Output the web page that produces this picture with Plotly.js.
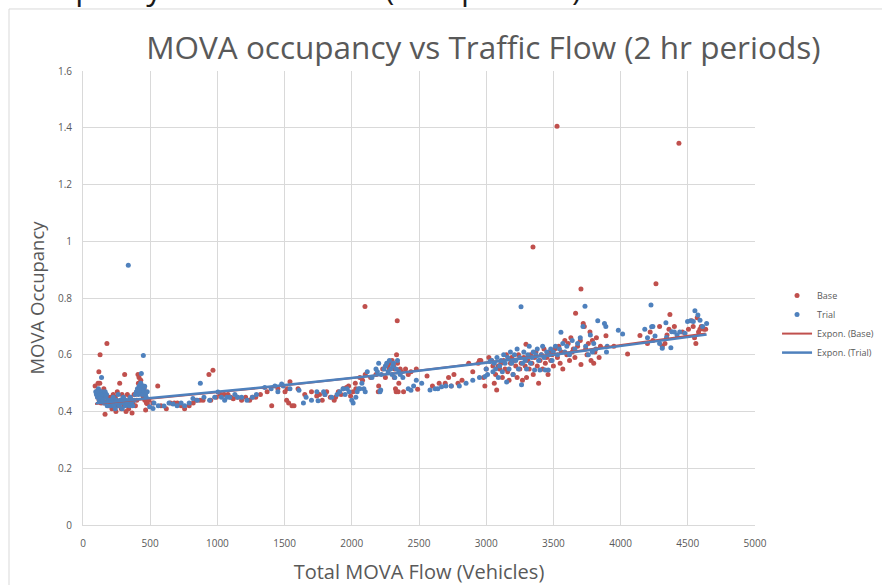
<!DOCTYPE html>
<html>
<head>
<meta charset="utf-8">
<script src="https://cdn.plot.ly/plotly-3.0.1.min.js"></script>
<style>html,body{margin:0;padding:0;background:#fff;}#chart{width:882px;height:585px;}</style>
</head>
<body>
<div id="chart"></div>
<script>
// ---- Data ----
const baseFlow = [
 90,100,105,110,112,118,120,125,127,130,135,140,145,150,155,160,164,170,178,185,190,195,
 205,210,215,220,225,230,235,240,245,250,255,260,265,273,280,285,290,295,300,305,310,315,320,330,335,340,350,360,365,370,380,390,400,409,412,417,420,
 425,430,435,440,445,450,455,460,466,472,479,490,
 520,556,580,620,650,680,702,730,756,790,820,843,870,893,937,950,967,992,1020,1050,1079,1100,1118,1150,1180,1210,1240,1260,1285,1320,1370,1404,
 1450,1503,1515,1520,1530,1540,1555,1570,1600,1650,1700,1739,1760,1780,1800,1813,1840,1869,1879,1900,1920,1937,1960,1976,1991,2010,2026,2030,2060,2080,2098,2100,2140,
 2180,2197,2200,2230,2250,2270,2280,2290,2300,2310,2316,2320,2325,2330,2333,2338,2340,2345,2350,2360,2370,2385,2400,2420,2440,2480,2490,
 2560,2600,2650,2695,2720,2740,2760,2790,2820,2870,2900,2940,2950,2960,2980,2990,3000,
 3020,3040,3050,3060,3070,3078,3090,3100,3110,3120,3130,3140,3150,3160,3170,3180,3190,3200,3210,3220,3230,3240,3250,3260,3270,3280,3290,3296,3300,3310,3320,3330,3340,3348,3350,3360,3370,3380,3390,3400,3410,3420,3430,3440,3450,3460,3470,3480,3490,3500,
 3510,3527,3530,3540,3550,3560,3570,3585,3600,3610,3620,3630,3640,3648,3660,3665,3680,3700,3705,3705,3722,3730,3740,3750,3760,3772,3780,3790,3800,3809,3820,3840,3850,
 3891,3950,4052,4144,4200,4220,4240,4263,4290,4310,4330,4345,4360,4367,4400,4434,4460,4505,4530,4540,4550,4560,4570,4580,4590,4600,4620,4633
];
const baseOcc = [
 0.49,0.47,0.46,0.45,0.50,0.54,0.44,0.50,0.60,0.47,0.43,0.46,0.45,0.44,0.48,0.43,0.39,0.46,0.64,0.44,0.42,0.45,
 0.43,0.45,0.41,0.44,0.46,0.42,0.43,0.45,0.40,0.44,0.47,0.42,0.43,0.50,0.44,0.41,0.46,0.43,0.45,0.42,0.53,0.44,0.40,0.46,0.43,0.41,0.45,0.44,0.395,0.43,0.46,0.42,0.44,0.53,0.50,0.52,0.48,
 0.47,0.51,0.49,0.46,0.47,0.45,0.48,0.44,0.405,0.43,0.427,0.44,
 0.43,0.49,0.42,0.41,0.43,0.43,0.43,0.42,0.41,0.42,0.43,0.44,0.44,0.44,0.53,0.44,0.545,0.45,0.46,0.46,0.46,0.45,0.445,0.45,0.44,0.45,0.44,0.45,0.45,0.46,0.47,0.42,
 0.48,0.47,0.44,0.48,0.43,0.505,0.42,0.42,0.48,0.46,0.47,0.455,0.46,0.44,0.46,0.47,0.45,0.44,0.45,0.47,0.46,0.48,0.485,0.49,0.455,0.47,0.50,0.48,0.52,0.51,0.77,0.53,0.52,
 0.53,0.47,0.49,0.55,0.52,0.56,0.55,0.57,0.58,0.56,0.52,0.55,0.48,0.47,0.60,0.72,0.57,0.47,0.50,0.55,0.54,0.47,0.55,0.53,0.54,0.55,0.478,
 0.525,0.49,0.50,0.50,0.52,0.49,0.53,0.50,0.51,0.57,0.54,0.57,0.58,0.58,0.52,0.49,0.55,
 0.59,0.58,0.56,0.50,0.53,0.476,0.56,0.55,0.57,0.52,0.58,0.55,0.60,0.54,0.51,0.57,0.59,0.53,0.58,0.56,0.52,0.60,0.55,0.57,0.51,0.59,0.56,0.637,0.52,0.58,0.55,0.60,0.57,0.98,0.53,0.59,0.61,0.56,0.50,0.58,0.60,0.55,0.62,0.57,0.59,0.53,0.61,0.58,0.60,0.56,
 0.62,1.405,0.59,0.63,0.57,0.61,0.55,0.65,0.60,0.64,0.58,0.66,0.61,0.62,0.59,0.746,0.63,0.65,0.832,0.566,0.71,0.70,0.62,0.60,0.64,0.68,0.58,0.65,0.57,0.61,0.66,0.59,0.63,
 0.667,0.63,0.603,0.668,0.64,0.68,0.65,0.85,0.70,0.63,0.64,0.67,0.69,0.742,0.70,1.345,0.68,0.69,0.72,0.70,0.66,0.64,0.73,0.68,0.69,0.70,0.69,0.69
];
const trialFlow = [
 95,100,104,108,112,115,118,122,126,130,134,138,142,146,150,155,160,165,170,175,180,190,
 205,210,218,225,232,240,248,255,262,270,278,285,292,300,308,315,322,330,337,345,352,360,370,380,390,397,405,412,
 418,422,426,430,434,438,442,446,449,452,456,459,465,470,478,496,
 521,528,560,603,640,670,700,730,756,790,818,850,873,900,942,980,1004,1030,1054,1070,1091,1130,1150,1180,1220,1260,1290,1352,1400,
 1428,1450,1478,1490,1540,1607,1640,1660,1700,1740,1749,1790,1800,1850,1890,1910,1935,1950,1965,1980,2000,2010,2030,2040,2050,2060,2075,2090,2100,
 2115,2150,2180,2190,2200,2210,2215,2220,2240,2250,2260,2270,2280,2290,2300,2305,2310,2320,2330,2340,2350,2360,2380,2420,2440,2460,2480,
 2520,2582,2620,2640,2668,2700,2740,2800,2850,2900,2950,2991,3000,
 3010,3028,3040,3050,3060,3070,3080,3090,3100,3110,3120,3130,3140,3152,3160,3170,3180,3190,3200,3210,3220,3230,3240,3250,3259,3263,3270,3280,3290,3300,3310,3320,3330,3340,3350,3360,3370,3380,3390,3400,3410,3420,3430,3440,3450,3462,3470,3480,3490,
 3500,3515,3530,3545,3556,3570,3585,3600,3620,3640,3660,3680,3700,3720,3735,3740,3760,3775,3790,3800,3815,3830,
 3880,3890,3895,3900,3983,4015,4180,4200,4226,4231,4240,4256,4290,4310,4337,4342,4374,4380,4400,4420,4440,4478,4498,4520,4541,4553,4575,4591,4610,4640
];
const trialOcc = [
 0.47,0.46,0.47,0.45,0.47,0.48,0.46,0.44,0.47,0.46,0.45,0.52,0.47,0.46,0.44,0.43,0.46,0.47,0.45,0.46,0.42,0.44,
 0.42,0.44,0.43,0.45,0.42,0.41,0.44,0.43,0.46,0.42,0.44,0.43,0.41,0.45,0.43,0.42,0.44,0.43,0.915,0.42,0.45,0.43,0.42,0.44,0.46,0.47,0.48,0.46,
 0.49,0.47,0.48,0.50,0.534,0.47,0.46,0.49,0.597,0.48,0.47,0.489,0.46,0.45,0.47,0.417,
 0.411,0.43,0.42,0.419,0.43,0.426,0.42,0.43,0.42,0.43,0.446,0.44,0.50,0.45,0.44,0.45,0.469,0.45,0.44,0.45,0.45,0.46,0.45,0.45,0.44,0.45,0.46,0.485,0.48,
 0.49,0.47,0.497,0.49,0.48,0.475,0.43,0.45,0.44,0.47,0.438,0.47,0.46,0.45,0.46,0.47,0.48,0.46,0.48,0.47,0.44,0.43,0.45,0.47,0.48,0.48,0.50,0.48,0.47,
 0.54,0.52,0.55,0.54,0.57,0.47,0.476,0.53,0.55,0.56,0.57,0.54,0.58,0.55,0.53,0.56,0.57,0.52,0.55,0.58,0.54,0.53,0.52,0.48,0.475,0.49,0.51,
 0.50,0.476,0.48,0.48,0.487,0.49,0.49,0.49,0.50,0.51,0.52,0.523,0.55,
 0.53,0.576,0.58,0.54,0.57,0.55,0.59,0.52,0.56,0.58,0.54,0.60,0.57,0.504,0.59,0.55,0.61,0.57,0.53,0.60,0.58,0.62,0.55,0.59,0.769,0.494,0.57,0.61,0.58,0.55,0.60,0.63,0.57,0.59,0.61,0.546,0.60,0.62,0.58,0.546,0.60,0.63,0.59,0.546,0.61,0.546,0.60,0.62,0.58,
 0.61,0.63,0.60,0.62,0.679,0.64,0.61,0.63,0.60,0.65,0.62,0.64,0.66,0.70,0.771,0.63,0.60,0.67,0.61,0.64,0.62,0.72,
 0.71,0.70,0.61,0.63,0.686,0.673,0.69,0.66,0.775,0.699,0.70,0.666,0.64,0.623,0.713,0.661,0.625,0.681,0.68,0.67,0.68,0.676,0.717,0.72,0.717,0.755,0.74,0.722,0.70,0.71
];
const xTickVals = [0,500,1000,1500,2000,2500,3000,3500,4000,4500,5000];
const yTickVals = [0,0.2,0.4,0.6,0.8,1,1.2,1.4,1.6];

// ---- Exponential trendline (least squares on ln y, as Excel does) ----
function expFit(xs, ys) {
  let n = xs.length, sx = 0, sy = 0, sxx = 0, sxy = 0;
  for (let i = 0; i < n; i++) {
    const lx = xs[i], ly = Math.log(ys[i]);
    sx += lx; sy += ly; sxx += lx * lx; sxy += lx * ly;
  }
  const b = (n * sxy - sx * sy) / (n * sxx - sx * sx);
  const a = Math.exp((sy - b * sx) / n);
  const x0 = Math.min(...xs), x1 = Math.max(...xs);
  const tx = [], ty = [];
  for (let k = 0; k <= 40; k++) {
    const x = x0 + (x1 - x0) * k / 40;
    tx.push(x); ty.push(a * Math.exp(b * x));
  }
  return {x: tx, y: ty};
}
const baseFit = expFit(baseFlow, baseOcc);
const trialFit = expFit(trialFlow, trialOcc);

const RED = '#C0504D', BLUE = '#4F81BD';
const FONT = 'Open Sans, sans-serif';
const GREY = '#595959';

const traces = [
  {x: baseFlow, y: baseOcc, name: 'Base', type: 'scatter', mode: 'markers',
   marker: {color: RED, size: 5}},
  {x: trialFlow, y: trialOcc, name: 'Trial', type: 'scatter', mode: 'markers',
   marker: {color: BLUE, size: 5}},
  {x: baseFit.x, y: baseFit.y, name: 'Expon. (Base)', type: 'scatter', mode: 'lines',
   line: {color: RED, width: 2}},
  {x: trialFit.x, y: trialFit.y, name: 'Expon. (Trial)', type: 'scatter', mode: 'lines',
   line: {color: BLUE, width: 2.5}}
];

const layout = {
  width: 882, height: 585,
  margin: {l: 83, r: 127, t: 71, b: 60},
  paper_bgcolor: '#ffffff', plot_bgcolor: '#ffffff',
  font: {family: FONT, color: GREY, size: 10},
  title: {text: 'MOVA occupancy vs Traffic Flow (2 hr periods)',
          font: {family: FONT, size: 31.5, color: GREY},
          x: 0.548, xanchor: 'center', xref: 'container', y: 0.918, yanchor: 'middle', yref: 'container'},
  xaxis: {range: [0, 5000], tickvals: xTickVals, showgrid: true, gridcolor: '#d9d9d9', gridwidth: 1,
          zeroline: false, showline: true, linecolor: '#d9d9d9', ticks: '', ticklabelstandoff: 9,
          tickfont: {family: FONT, size: 10, color: GREY},
          title: {text: 'Total MOVA Flow (Vehicles)', font: {family: FONT, size: 20, color: GREY}, standoff: 16}},
  yaxis: {range: [0, 1.6], tickvals: yTickVals, showgrid: true, gridcolor: '#d9d9d9', gridwidth: 1,
          zeroline: false, showline: true, linecolor: '#d9d9d9', ticks: '', ticklabelstandoff: 8,
          tickfont: {family: FONT, size: 10, color: GREY},
          title: {text: 'MOVA Occupancy', font: {family: FONT, size: 18.5, color: GREY}, standoff: 8}},
  showlegend: true,
  legend: {xref: 'container', yref: 'container', x: 0.881, xanchor: 'left', y: 0.5195, yanchor: 'top',
           bgcolor: 'rgba(0,0,0,0)', font: {family: FONT, size: 9, color: GREY}, traceorder: 'normal'},
  shapes: [
    {type: 'rect', xref: 'paper', yref: 'paper', x0: -0.1101, x1: 1.3, y0: -0.2, y1: 1.1366,
     line: {color: '#d9d9d9', width: 1}, fillcolor: 'rgba(0,0,0,0)', layer: 'below'}
  ],
  annotations: [
    {text: 'MOVA occupancy vs Traffic Flow (2 hr periods)', xref: 'paper', yref: 'paper',
     x: 0.2396, xanchor: 'center', y: 1.1322, yanchor: 'bottom', showarrow: false,
     font: {family: FONT, size: 31.5, color: '#1a1a1a'}}
  ]
};

Plotly.newPlot('chart', traces, layout, {displayModeBar: false, staticPlot: true});
</script>
</body>
</html>
